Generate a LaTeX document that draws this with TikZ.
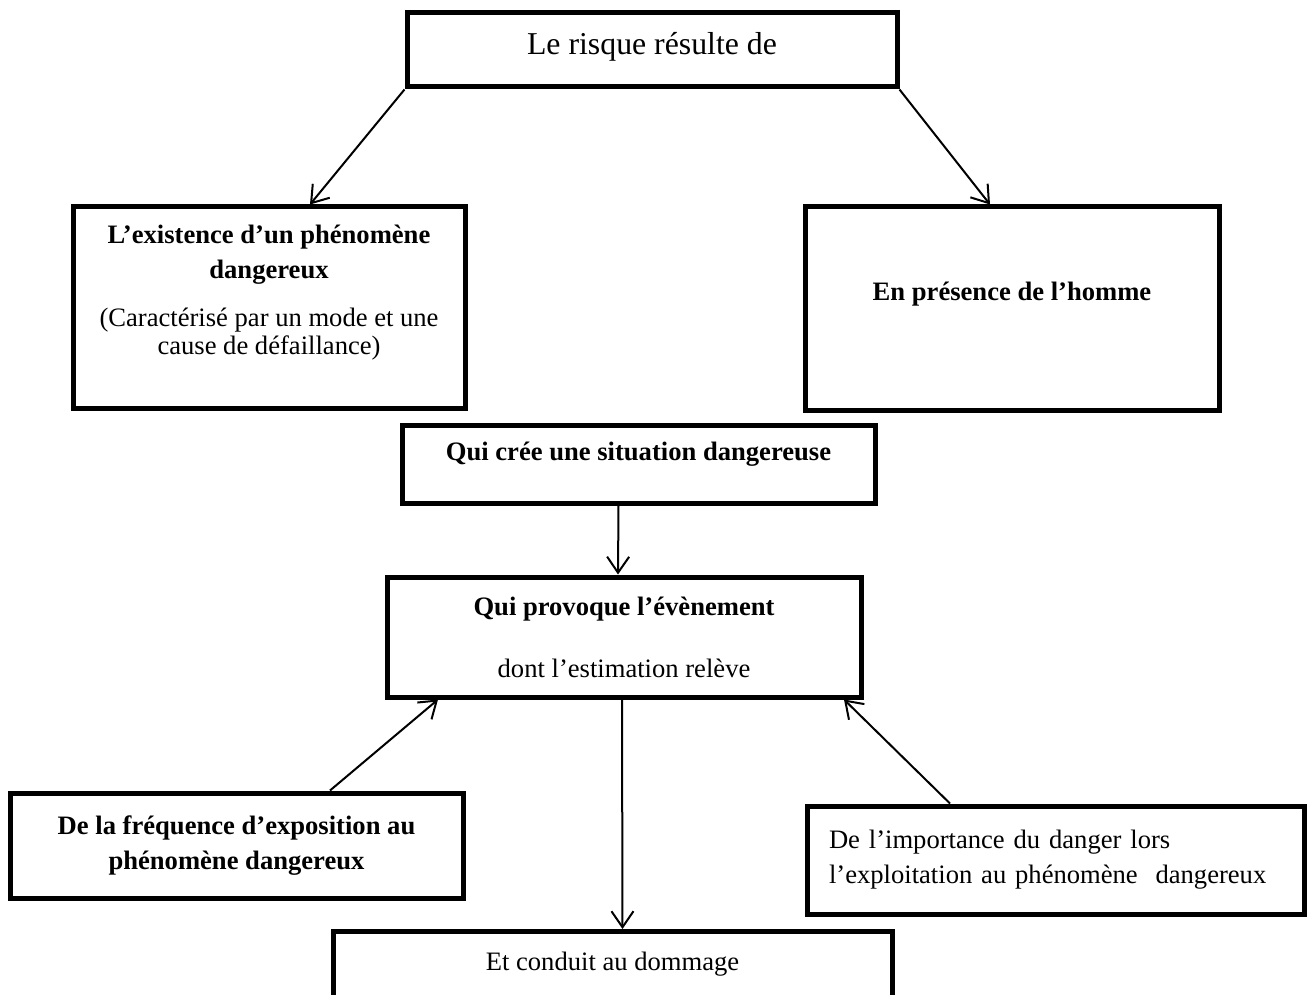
\documentclass[tikz,border=0pt]{standalone}
\usepackage{fontspec}
\setmainfont{Liberation Serif}
\usetikzlibrary{arrows.meta, calc, positioning}

\begin{document}
\begin{tikzpicture}[x=0.5pt, y=-0.5pt,
        box/.style={draw, line width=2.5pt, align=center, inner sep=4pt, font=\fontsize{13.3}{17.5}\selectfont},
        arr/.style={-{Straight Barb[length=8pt, width=11pt, line width=1pt]}, line width=1pt}]
    \clip (0,0) rectangle (1308,995);
    \node[box, minimum width=245pt, minimum height=37pt, text depth=7pt, font=\fontsize{15.9}{19}\selectfont] (risque) at (652,50) {Le risque résulte de};
    \node[box, minimum width=196pt, minimum height=100.5pt, text depth=18pt] (phen) at (269,307.5) {\textbf{L’existence d’un phénomène}\\ \textbf{dangereux}\\[6.5pt] (Caractérisé par un mode et une\\[-3.5pt] cause de défaillance)};
    \node[box, minimum width=207pt, minimum height=101.5pt, text depth=17.5pt] (homme) at (1012,308.5) {\textbf{En présence de l’homme}};
    \node[box, minimum width=236.5pt, minimum height=39pt, text depth=13pt] (cree) at (638.5,464) {\textbf{Qui crée une situation dangereuse}};
    \node[box, minimum width=237pt, minimum height=60pt] (evenement) at (624,637) {\textbf{Qui provoque l’évènement}\\[13.5pt] dont l’estimation relève};
    \node[box, minimum width=226.5pt, minimum height=52.5pt] (frequence) at (236.5,845.5) {\textbf{De la fréquence d’exposition au}\\ \textbf{phénomène dangereux}};
    \node[box, minimum width=248.5pt, minimum height=54pt, text width=226.5pt, inner xsep=11pt, align=left] (importance) at (1055.5,860) {De l’importance du danger lors\\ l’exploitation au phénomène\ \ dangereux};
    \node[box, anchor=north, minimum width=279.5pt, minimum height=60pt, text depth=30pt] (dommage) at (612.5,929) {Et conduit au dommage};
    \draw[arr] (risque.south west) -- ($(phen.north)+(41,0)$);
    \draw[arr] (risque.south east) -- ($(homme.north)+(-22,0)$);
    \draw[arr] ($(cree.south)+(-20,0)$) -- ($(evenement.north)+(-6,0)$);
    \draw[arr] ($(frequence.north)+(93.5,0)$) -- ($(evenement.south)+(-186,0)$);
    \draw[arr] ($(importance.north)+(-105.5,0)$) -- ($(evenement.south)+(220,0)$);
    \draw[arr] ($(evenement.south)+(-2,0)$) -- ($(dommage.north)+(10,0)$);
\end{tikzpicture}
\end{document}
